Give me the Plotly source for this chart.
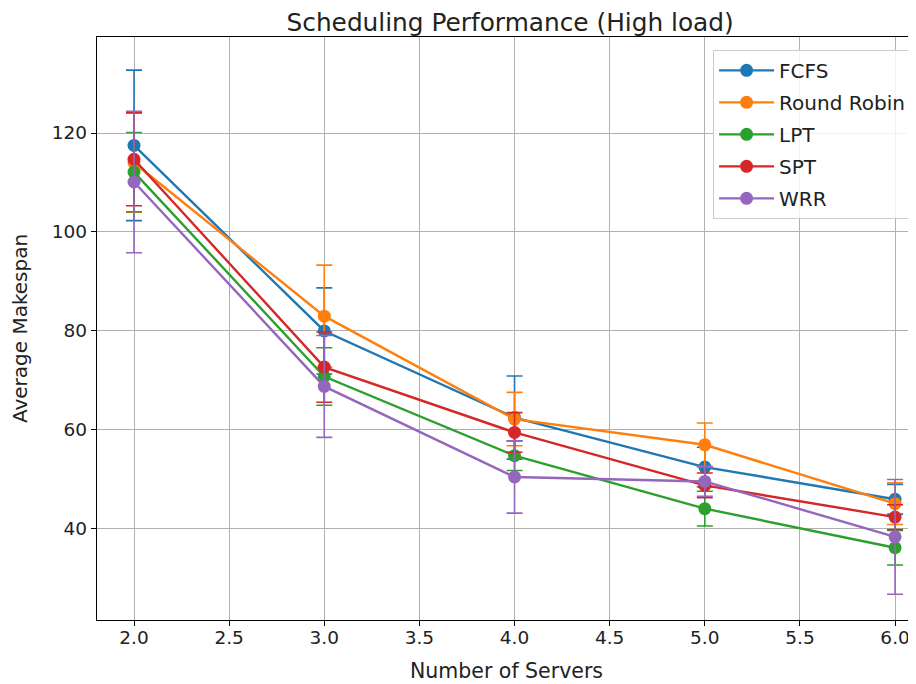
import plotly.graph_objects as go

servers = [2, 3, 4, 5, 6]
series_names = ["FCFS", "Round Robin", "LPT", "SPT", "WRR"]
colors = ["#1f77b4", "#ff7f0e", "#2ca02c", "#d62728", "#9467bd"]

fcfs = [117.5, 80.0, 62.5, 52.5, 46.0]
fcfs_err = [15.2, 8.7, 8.4, 4.0, 3.0]
rr = [114.0, 83.0, 62.2, 57.0, 45.1]
rr_err = [10.0, 10.3, 5.4, 4.4, 4.2]
lpt = [112.1, 70.8, 54.8, 44.1, 36.2]
lpt_err = [8.0, 5.8, 3.0, 3.5, 3.5]
spt = [114.7, 72.7, 59.5, 48.8, 42.4]
spt_err = [9.4, 7.1, 4.0, 2.5, 2.5]
wrr = [110.1, 68.8, 50.5, 49.6, 38.4]
wrr_err = [14.3, 10.3, 7.3, 3.0, 11.6]

values = [fcfs, rr, lpt, spt, wrr]
errors = [fcfs_err, rr_err, lpt_err, spt_err, wrr_err]

fig = go.Figure()
for name, col, v, e in zip(series_names, colors, values, errors):
    fig.add_trace(go.Scatter(
        x=servers, y=v, name=name, mode="lines+markers", legendgroup=name,
        line=dict(color=col, width=2.4),
        marker=dict(color=col, size=13),
        error_y=dict(type="data", array=e, visible=True, color=col,
                     thickness=1.6, width=8),
    ))

font = "DejaVu Sans, sans-serif"
# The page body adds an 8px margin, so the figure is sized to fit inside it.
fig.update_layout(
    width=908, height=676,
    margin=dict(l=89, r=0, t=29, b=64),
    paper_bgcolor="white", plot_bgcolor="white",
    font=dict(family=font, color="#222", size=18),
    title=dict(text="Scheduling Performance (High load)", x=0.553, xanchor="center",
               y=0.979, yanchor="middle", font=dict(size=24.8, color="#222")),
    legend=dict(x=0.994, xanchor="right", y=0.978, yanchor="top",
                bgcolor="rgba(255,255,255,0.85)", bordercolor="#cccccc", borderwidth=1,
                font=dict(size=20, color="#222"), tracegroupgap=3, itemwidth=55),
    showlegend=True,
)
fig.update_xaxes(
    range=[1.8055, 6.11], tickvals=[2, 2.5, 3, 3.5, 4, 4.5, 5, 5.5, 6],
    ticktext=["2.0", "2.5", "3.0", "3.5", "4.0", "4.5", "5.0", "5.5", "6.0"],
    showgrid=True, gridcolor="#b0b0b0", gridwidth=1,
    showline=True, linecolor="black", linewidth=1.3, mirror=True,
    ticks="outside", ticklen=5, tickcolor="black", zeroline=False,
    tickfont=dict(size=18.5), ticklabelstandoff=-4,
    title=dict(text="Number of Servers", font=dict(size=20.5), standoff=16),
)
fig.update_yaxes(
    range=[21.6, 139.4], tickvals=[40, 60, 80, 100, 120],
    showgrid=True, gridcolor="#b0b0b0", gridwidth=1,
    showline=True, linecolor="black", linewidth=1.3, mirror=False,
    ticks="outside", ticklen=5, tickcolor="black", zeroline=False,
    tickfont=dict(size=18.5),
    title=dict(text="Average Makespan", font=dict(size=20), standoff=18),
)
fig.write_html("out.html")
